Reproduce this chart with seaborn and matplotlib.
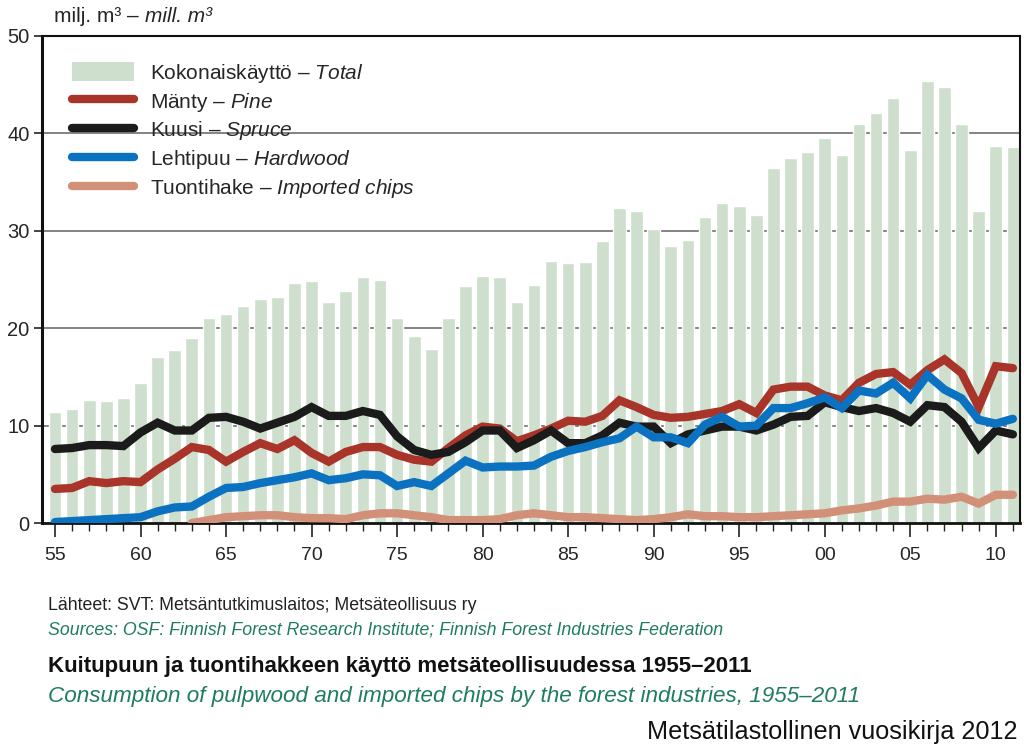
import numpy as np
import pandas as pd
import seaborn as sns
import matplotlib.pyplot as plt
from matplotlib.patches import Patch
from matplotlib.lines import Line2D
from matplotlib.ticker import MultipleLocator

years = list(range(1955, 2012))

total = [11.4, 11.7, 12.6, 12.5, 12.8, 14.4, 17.0, 17.8, 19.0, 21.1,
         21.5, 22.3, 23.0, 23.2, 24.6, 24.8, 22.7, 23.8, 25.3, 24.9,
         21.0, 19.2, 17.9, 21.0, 24.3, 25.4, 25.3, 22.7, 24.4, 26.9,
         26.7, 26.8, 29.0, 32.3, 32.0, 30.2, 28.4, 29.1, 31.4, 32.9,
         32.5, 31.6, 36.4, 37.5, 38.1, 39.5, 37.8, 41.0, 42.1, 43.6,
         38.3, 45.4, 44.8, 41.0, 32.0, 38.7, 38.6]

pine = [3.5, 3.6, 4.3, 4.1, 4.3, 4.2, 5.5, 6.6, 7.8, 7.5,
        6.3, 7.3, 8.2, 7.6, 8.5, 7.2, 6.3, 7.3, 7.8, 7.8,
        7.0, 6.5, 6.3, 7.7, 9.0, 9.9, 9.7, 8.4, 9.0, 9.7,
        10.5, 10.4, 11.0, 12.6, 11.9, 11.1, 10.8, 10.9, 11.2, 11.5,
        12.2, 11.3, 13.7, 14.0, 14.0, 13.1, 12.6, 14.4, 15.3, 15.5,
        14.2, 15.7, 16.8, 15.4, 11.9, 16.1, 15.9]

spruce = [7.6, 7.7, 8.0, 8.0, 7.9, 9.3, 10.3, 9.5, 9.5, 10.8,
          10.9, 10.4, 9.7, 10.3, 10.9, 11.9, 11.0, 11.0, 11.5, 11.1,
          8.9, 7.5, 7.0, 7.3, 8.3, 9.5, 9.5, 7.7, 8.5, 9.5,
          8.2, 8.2, 9.0, 10.3, 9.9, 9.9, 8.2, 9.1, 9.5, 9.9,
          9.9, 9.5, 10.1, 10.9, 11.0, 12.4, 11.9, 11.5, 11.8, 11.3,
          10.4, 12.1, 11.9, 10.4, 7.7, 9.5, 9.1]

hardwood = [0.1, 0.2, 0.3, 0.4, 0.5, 0.6, 1.2, 1.6, 1.7, 2.7,
            3.6, 3.7, 4.1, 4.4, 4.7, 5.1, 4.4, 4.6, 5.0, 4.9,
            3.8, 4.2, 3.8, 5.1, 6.4, 5.7, 5.8, 5.8, 5.9, 6.8,
            7.4, 7.8, 8.3, 8.7, 9.9, 8.8, 8.8, 8.2, 10.1, 10.9,
            9.9, 10.0, 11.8, 11.8, 12.3, 12.9, 11.8, 13.6, 13.3, 14.4,
            12.8, 15.2, 13.7, 12.8, 10.6, 10.2, 10.7]

chips = [np.nan] * 8 + [
         0.0, 0.3, 0.6, 0.7, 0.8, 0.8, 0.6, 0.5, 0.5, 0.4,
         0.8, 1.0, 1.0, 0.8, 0.6, 0.3, 0.3, 0.3, 0.4, 0.8,
         1.0, 0.8, 0.6, 0.6, 0.5, 0.4, 0.3, 0.4, 0.6, 0.9,
         0.7, 0.7, 0.6, 0.6, 0.7, 0.8, 0.9, 1.0, 1.3, 1.5,
         1.8, 2.2, 2.2, 2.5, 2.4, 2.7, 2.0, 2.9, 2.9]

labels = ["Kokonaiskäyttö – $\\mathit{Total}$",
          "Mänty – $\\mathit{Pine}$",
          "Kuusi – $\\mathit{Spruce}$",
          "Lehtipuu – $\\mathit{Hardwood}$",
          "Tuontihake – $\\mathit{Imported\\ chips}$"]

bar_col = '#cedfce'
colors = {'pine': '#a8342a', 'spruce': '#1b1b1b', 'hardwood': '#0b72c1', 'chips': '#d39078'}

sns.set_style('ticks')
plt.rcParams['font.family'] = ['Liberation Sans', 'DejaVu Sans']
plt.rcParams['mathtext.fontset'] = 'custom'
plt.rcParams['mathtext.rm'] = 'Liberation Sans'
plt.rcParams['mathtext.it'] = 'Liberation Sans:italic'

df = pd.DataFrame({'year': years, 'total': total, 'pine': pine, 'spruce': spruce,
                   'hardwood': hardwood, 'chips': chips})
long = df.melt(id_vars='year', value_vars=['pine', 'spruce', 'hardwood', 'chips'],
               var_name='series', value_name='value').dropna()

fig = plt.figure(figsize=(10.24, 7.53), dpi=100)
ax = fig.add_axes([0.041, 0.3054, 0.955, 0.6468])

for v in [10, 20, 30, 40]:
    ax.axhline(v, color='#7a7a7a', lw=1.3, zorder=0)

sns.barplot(data=df, x='year', y='total', native_scale=True, color=bar_col,
            width=0.74, errorbar=None, ax=ax, zorder=1, saturation=1)
sns.lineplot(data=long, x='year', y='value', hue='series', palette=colors,
             linewidth=6, legend=False, ax=ax, zorder=3)
for l in ax.lines:
    l.set_solid_capstyle('round')
    l.set_solid_joinstyle('miter')

ax.set_xlim(1954.24, 2011.41)
ax.set_ylim(0, 50)
ax.set_yticks([0, 10, 20, 30, 40, 50])
ax.set_xticks(list(range(1955, 2011, 5)))
ax.set_xticklabels(['55', '60', '65', '70', '75', '80', '85', '90', '95', '00', '05', '10'])
ax.xaxis.set_minor_locator(MultipleLocator(1))
ax.tick_params(axis='x', which='major', length=10, width=1.2, labelsize=14, pad=7, color='#222222')
ax.tick_params(axis='x', which='minor', length=6, width=1.0, color='#222222')
ax.tick_params(axis='y', length=6, width=1.2, labelsize=14.5, pad=3, color='#222222')
ax.set_xlabel('')
ax.set_ylabel('')
for s in ax.spines.values():
    s.set_visible(True)
    s.set_color('#111111')
    s.set_linewidth(1.5)
ax.spines['left'].set_linewidth(2.2)
ax.spines['bottom'].set_linewidth(2.0)

t1 = fig.text(0.053, 0.971, 'milj. m³ – ', fontsize=15, va='baseline', ha='left')
ax.annotate('mill. m³', xy=(1, 0), xycoords=t1, va='bottom', ha='left',
            fontsize=15, style='italic')

handles = [Patch(facecolor=bar_col, edgecolor='none')] + [
    Line2D([0], [0], color=colors[k], lw=6, solid_capstyle='round')
    for k in ['pine', 'spruce', 'hardwood', 'chips']]
ax.legend(handles, labels, loc='upper left', bbox_to_anchor=(0.070, 0.918),
          bbox_transform=fig.transFigure, frameon=False, fontsize=15,
          handlelength=3.0, handleheight=1.0, handletextpad=0.75,
          labelspacing=0.28, borderpad=0, borderaxespad=0)

green = '#1f7d5c'
fig.text(0.047, 0.190, 'Lähteet: SVT: Metsäntutkimuslaitos; Metsäteollisuus ry',
         fontsize=12.8, color='#222222')
fig.text(0.047, 0.158, 'Sources: OSF: Finnish Forest Research Institute; Finnish Forest Industries Federation',
         fontsize=12.8, style='italic', color=green)
fig.text(0.047, 0.107, 'Kuitupuun ja tuontihakkeen käyttö metsäteollisuudessa 1955–2011',
         fontsize=16, weight='bold', color='#111111')
fig.text(0.047, 0.068, 'Consumption of pulpwood and imported chips by the forest industries, 1955–2011',
         fontsize=16.2, style='italic', color=green)
fig.text(0.994, 0.018, 'Metsätilastollinen vuosikirja 2012',
         fontsize=18.2, ha='right', color='#111111')

fig.savefig('out.png', dpi=100)
